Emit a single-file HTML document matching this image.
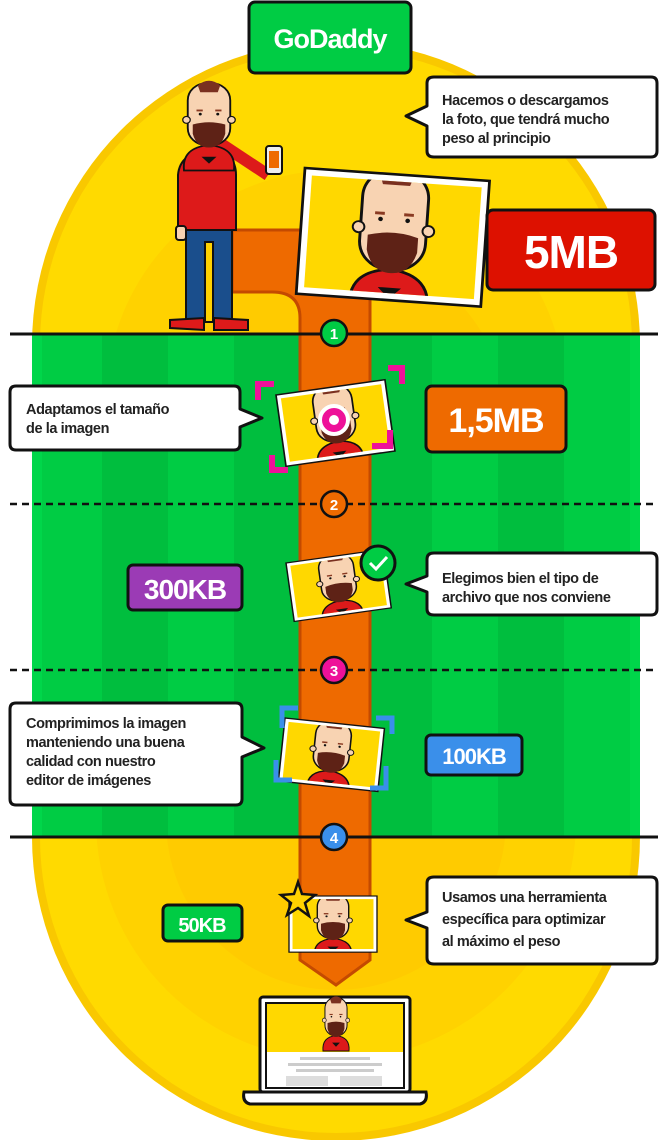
<!DOCTYPE html>
<html><head><meta charset="utf-8"><style>
html,body{margin:0;padding:0;background:#fff}
svg{display:block}
text{font-family:"Liberation Sans",sans-serif;font-weight:bold}
</style></head><body>
<svg width="669" height="1140" viewBox="0 0 669 1140" xmlns="http://www.w3.org/2000/svg">
<defs>
<clipPath id="pc"><rect x="4" y="4" width="92" height="64"/></clipPath>
<g id="face">
  <path d="M-20,70 Q-22,50 0,48 Q22,50 20,70 Z" fill="#DD1A1A" stroke="#111" stroke-width="1.5"/>
  <path d="M-6,58 L0,64 L6,58 Z" fill="#111"/>
  <rect x="-17" y="-6" width="34" height="54" rx="15" fill="#F8D3B2" stroke="#111" stroke-width="1.5"/>
  <path d="M-9,-4 Q0,-12 9,-4 L7,2 L-7,2 Z" fill="#7A3020"/>
  <rect x="-10" y="17" width="5" height="1.6" fill="#8A3A22"/><rect x="5" y="17" width="5" height="1.6" fill="#8A3A22"/>
  <circle cx="-7" cy="21" r="1.2" fill="#111"/><circle cx="7" cy="21" r="1.2" fill="#111"/>
  <path d="M-13,30 Q0,26 13,30 L13,38 Q10,50 0,50 Q-10,50 -13,38 Z" fill="#5E2216"/>
  <circle cx="-18" cy="26" r="3" fill="#F8D3B2" stroke="#111" stroke-width="1"/><circle cx="18" cy="26" r="3" fill="#F8D3B2" stroke="#111" stroke-width="1"/>
</g>
<g id="photo">
  <rect x="0" y="0" width="100" height="72" fill="#fff" stroke="#111" stroke-width="1.5"/>
  <rect x="4" y="4" width="92" height="64" fill="#FFD800"/>
  <g clip-path="url(#pc)"><use href="#face" transform="translate(50,4) scale(1.05)"/></g>
</g>
</defs>

<path d="M32,345 A304,304 0 0 1 640,345 L640,837 A304,304 0 0 1 32,837 Z" fill="#F9C800"/>
<path d="M40,345 A296,296 0 0 1 632,345 L632,837 A296,296 0 0 1 40,837 Z" fill="#FFDA00"/>
<circle cx="336" cy="400" r="230" fill="#FFD200"/>
<circle cx="336" cy="420" r="170" fill="#FFCB00"/>
<circle cx="336" cy="820" r="240" fill="#FFD200"/>
<circle cx="336" cy="820" r="170" fill="#FFCB00"/>
<rect x="32" y="334" width="608" height="503" fill="#00CC44"/>
<g fill="#00BE3E">
<rect x="102" y="334" width="66" height="503"/><rect x="234" y="334" width="66" height="503"/><rect x="366" y="334" width="66" height="503"/><rect x="498" y="334" width="66" height="503"/>
</g>
<rect x="32" y="334" width="10" height="503" fill="#00D64A"/><rect x="630" y="334" width="10" height="503" fill="#00D64A"/>

<path d="M232,230 H370 V960 L336,985 L300,960 V318 Q300,292 272,292 H232 Z" fill="#EE6A00" stroke="#C44A00" stroke-width="3"/>

<line x1="10" y1="334" x2="658" y2="334" stroke="#111" stroke-width="3"/>
<line x1="10" y1="837" x2="658" y2="837" stroke="#111" stroke-width="3"/>
<line x1="10" y1="504" x2="658" y2="504" stroke="#111" stroke-width="2.5" stroke-dasharray="7,5"/>
<line x1="10" y1="670" x2="658" y2="670" stroke="#111" stroke-width="2.5" stroke-dasharray="7,5"/>

<g stroke="#111" stroke-width="2.5">
<circle cx="334" cy="333" r="13" fill="#00CC44"/>
<circle cx="334" cy="504" r="13" fill="#EE6A00"/>
<circle cx="334" cy="670" r="13" fill="#EE1199"/>
<circle cx="334" cy="837" r="13" fill="#3A8FEA"/>
</g>
<g fill="#fff" font-size="15" text-anchor="middle">
<text x="334" y="339">1</text><text x="334" y="510">2</text><text x="334" y="676">3</text><text x="334" y="843">4</text>
</g>

<rect x="249" y="2" width="162" height="71" rx="6" fill="#00CC44" stroke="#111" stroke-width="3"/>
<text x="330" y="48" fill="#fff" font-size="27" text-anchor="middle" letter-spacing="-1">GoDaddy</text>

<g stroke="#111" stroke-width="2">
<path d="M200,130 L268,175" stroke="#DD1A1A" stroke-width="12"/>
<rect x="266" y="146" width="16" height="28" rx="3" fill="#eee"/>
<rect x="269" y="151" width="10" height="17" fill="#EE6A00" stroke="none"/>
<rect x="186" y="226" width="46" height="95" fill="#1A4E8C"/>
<rect x="205" y="242" width="8" height="80" fill="#FFD200"/>
<path d="M178,225 L178,175 Q180,152 210,150 Q236,152 236,175 L236,230 L178,230 Z" fill="#DD1A1A"/>
<rect x="176" y="226" width="10" height="14" rx="3" fill="#F8D3B2"/>
<path d="M170,328 L170,320 L204,318 L204,330 Z" fill="#DD1A1A"/>
<path d="M214,318 L248,320 L248,330 L214,330 Z" fill="#DD1A1A"/>
</g>
<use href="#face" transform="translate(209,90) scale(1.25,1.15)"/>

<use href="#photo" transform="translate(305,168) rotate(4) scale(1.85,1.75)"/>
<use href="#photo" transform="translate(276,395) rotate(-8) scale(1.1,1.0)"/>
<use href="#photo" transform="translate(286,563) rotate(-8) scale(0.98,0.82)"/>
<use href="#photo" transform="translate(285,718) rotate(6) scale(1.0,0.88)"/>
<use href="#photo" transform="translate(289,896) scale(0.88,0.78)"/>

<circle cx="334" cy="420" r="14" fill="#EE1199" stroke="#fff" stroke-width="4"/>
<circle cx="334" cy="420" r="5" fill="#fff"/>
<g fill="none" stroke="#EE1199" stroke-width="6">
<path d="M258,400 V384 H274"/><path d="M388,368 H402 V384"/><path d="M272,455 V470 H288"/><path d="M390,430 V446 H372"/>
</g>
<g fill="none" stroke="#3A8FEA" stroke-width="5">
<path d="M282,728 V708 H298"/><path d="M376,718 H392 V734"/><path d="M276,760 V780 H292"/><path d="M386,766 V788 H370"/>
</g>
<circle cx="378" cy="563" r="17" fill="#00CC44" stroke="#111" stroke-width="3"/>
<path d="M370,563 L376,569 L387,557" fill="none" stroke="#fff" stroke-width="3"/>
<path d="M298,882 L302,894 L315,895 L305,903 L309,916 L298,908 L287,915 L291,903 L281,895 L294,894 Z" fill="#FFD200" stroke="#111" stroke-width="2.5"/>

<rect x="260" y="997" width="150" height="95" rx="3" fill="#fff" stroke="#111" stroke-width="3"/>
<rect x="266" y="1003" width="138" height="85" fill="#fff" stroke="#111" stroke-width="2"/>
<rect x="267" y="1004" width="136" height="48" fill="#FFD800"/>
<use href="#face" transform="translate(336,1002) scale(0.65,0.7)"/>
<rect x="267" y="1052" width="136" height="35" fill="#fff"/>
<rect x="300" y="1057" width="70" height="3" fill="#ccc"/><rect x="288" y="1063" width="94" height="3" fill="#ccc"/><rect x="296" y="1069" width="78" height="3" fill="#ccc"/>
<rect x="286" y="1076" width="42" height="10" fill="#ddd"/><rect x="340" y="1076" width="42" height="10" fill="#ddd"/>
<path d="M244,1092 H426 Q428,1102 420,1104 H250 Q242,1102 244,1092 Z" fill="#fff" stroke="#111" stroke-width="3"/>

<g stroke="#111" stroke-width="3">
<rect x="487" y="210" width="168" height="80" rx="6" fill="#DD1100"/>
<rect x="426" y="386" width="140" height="66" rx="6" fill="#EE6A00"/>
<rect x="128" y="565" width="114" height="45" rx="5" fill="#9B3BB5"/>
<rect x="426" y="735" width="96" height="40" rx="5" fill="#3A8FEA"/>
<rect x="163" y="905" width="79" height="36" rx="5" fill="#00CC44"/>
</g>
<g fill="#fff" text-anchor="middle" letter-spacing="-1">
<text x="571" y="268" font-size="46">5MB</text>
<text x="496" y="432" font-size="34">1,5MB</text>
<text x="185" y="599" font-size="28">300KB</text>
<text x="474" y="764" font-size="22">100KB</text>
<text x="202" y="932" font-size="20">50KB</text>
</g>

<g fill="#fff" stroke="#111" stroke-width="3" stroke-linejoin="round">
<path d="M434,77 H651 Q657,77 657,83 V151 Q657,157 651,157 H434 Q427,157 427,151 V126 L406,116 L427,106 V83 Q427,77 434,77 Z"/>
<path d="M16,386 H234 Q240,386 240,392 V409 L262,418 L240,427 V444 Q240,450 234,450 H16 Q10,450 10,444 V392 Q10,386 16,386 Z"/>
<path d="M434,553 H651 Q657,553 657,559 V609 Q657,615 651,615 H434 Q427,615 427,609 V592 L406,584 L427,576 V559 Q427,553 434,553 Z"/>
<path d="M16,703 H236 Q242,703 242,709 V737 L264,748 L242,757 V799 Q242,805 236,805 H16 Q10,805 10,799 V709 Q10,703 16,703 Z"/>
<path d="M434,877 H651 Q657,877 657,883 V958 Q657,964 651,964 H434 Q427,964 427,958 V928 L406,920 L427,912 V883 Q427,877 434,877 Z"/>
</g>
<g fill="#222" font-size="14.5" letter-spacing="-0.4">
<text x="442" y="105">Hacemos o descargamos</text>
<text x="442" y="124">la foto, que tendrá mucho</text>
<text x="442" y="143">peso al principio</text>
<text x="26" y="414">Adaptamos el tamaño</text>
<text x="26" y="433">de la imagen</text>
<text x="442" y="583">Elegimos bien el tipo de</text>
<text x="442" y="602">archivo que nos conviene</text>
<text x="26" y="728">Comprimimos la imagen</text>
<text x="26" y="747">manteniendo una buena</text>
<text x="26" y="766">calidad con nuestro</text>
<text x="26" y="785">editor de  imágenes</text>
<text x="442" y="902">Usamos una herramienta</text>
<text x="442" y="924">específica para optimizar</text>
<text x="442" y="946">al máximo el peso</text>
</g>
</svg>
</body></html>
